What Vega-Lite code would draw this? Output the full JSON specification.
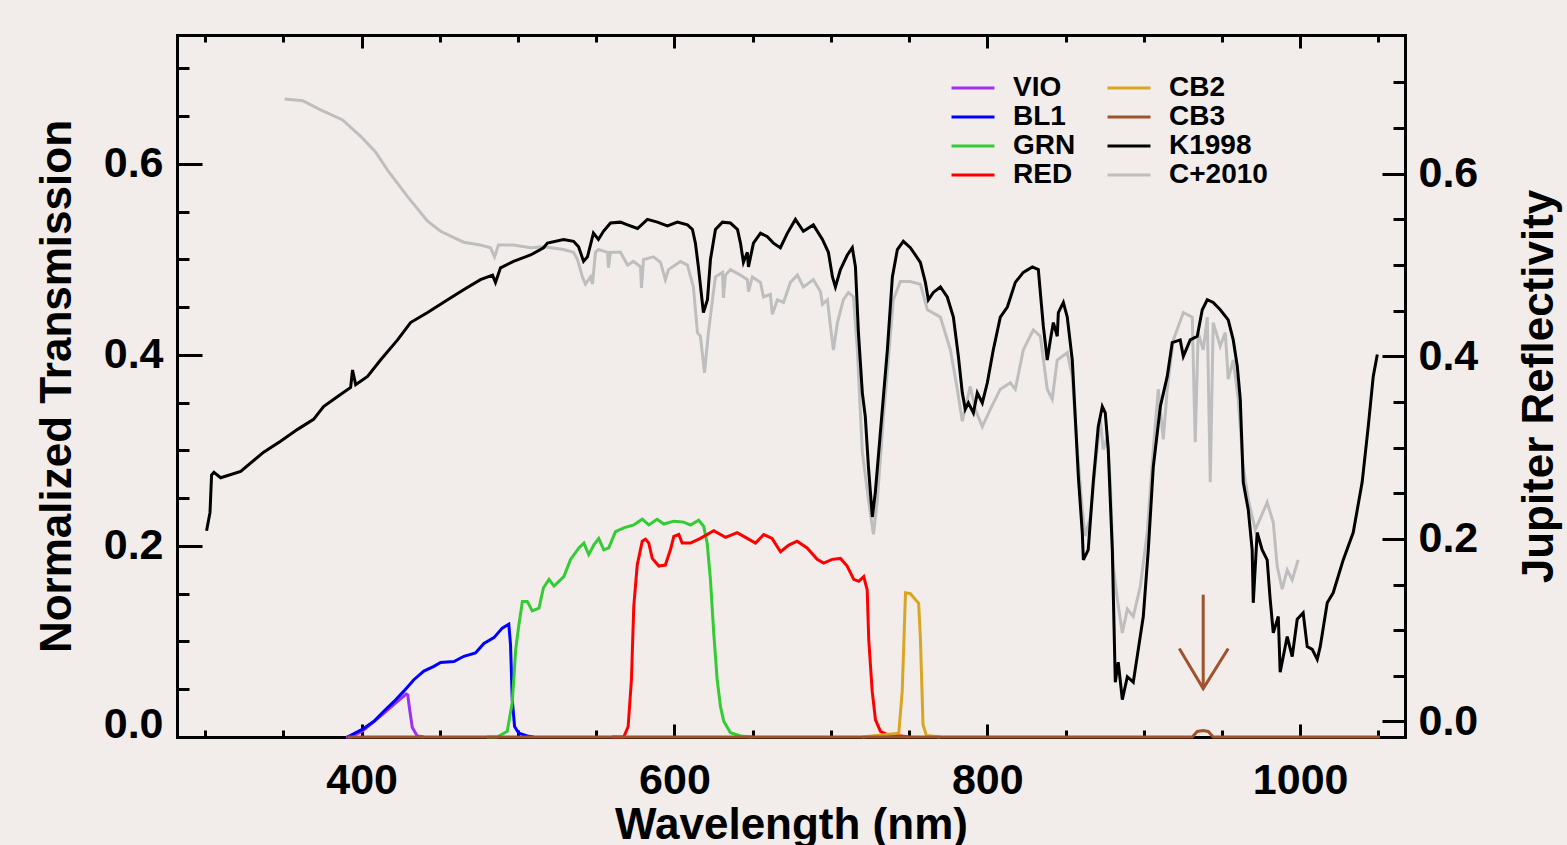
{
"$schema":"https://vega.github.io/schema/vega-lite/v6.json",
"width":1228,"height":702,
"autosize":{"type":"none"},
"padding":{"left":177,"top":35,"right":162,"bottom":108},
"background":"#F2EDEB",
"config":{"view":{"stroke":null},
"axis":{"grid":false,"domainColor":"black","tickColor":"black","labelColor":"black","titleColor":"black","domainWidth":3,"tickWidth":3,"labelFont":"Liberation Sans","titleFont":"Liberation Sans","labelFontSize":43,"titleFontSize":44,"labelFontWeight":"bold","titleFontWeight":"bold","domainCap":"square","labelFlush":false,"labelOverlap":false}},
"datasets":{
"filters":[
{"s":"VIO","w":390,"v":0},{"s":"VIO","w":393.0,"v":0},{"s":"VIO","w":400.4,"v":0.006},{"s":"VIO","w":412.1,"v":0.022},{"s":"VIO","w":422.8,"v":0.037},{"s":"VIO","w":428.5,"v":0.045},{"s":"VIO","w":429.5,"v":0.044},{"s":"VIO","w":430.7,"v":0.029},{"s":"VIO","w":432.4,"v":0.010},{"s":"VIO","w":435.6,"v":0.001},{"s":"VIO","w":440,"v":0},
{"s":"BL1","w":390.9,"v":0},{"s":"BL1","w":400.4,"v":0.008},{"s":"BL1","w":407.9,"v":0.0165},{"s":"BL1","w":414.2,"v":0.027},{"s":"BL1","w":420.6,"v":0.037},{"s":"BL1","w":427.0,"v":0.048},{"s":"BL1","w":433.4,"v":0.060},{"s":"BL1","w":439.8,"v":0.069},{"s":"BL1","w":446.2,"v":0.074},{"s":"BL1","w":450.5,"v":0.078},{"s":"BL1","w":459.0,"v":0.079},{"s":"BL1","w":465.4,"v":0.0845},{"s":"BL1","w":472.8,"v":0.088},{"s":"BL1","w":478.2,"v":0.098},{"s":"BL1","w":484.6,"v":0.104},{"s":"BL1","w":489.9,"v":0.114},{"s":"BL1","w":494.1,"v":0.118},{"s":"BL1","w":495.2,"v":0.097},{"s":"BL1","w":496.3,"v":0.039},{"s":"BL1","w":497.8,"v":0.011},{"s":"BL1","w":500.5,"v":0.004},{"s":"BL1","w":505.9,"v":0.001},{"s":"BL1","w":510,"v":0},
{"s":"GRN","w":480,"v":0},{"s":"GRN","w":486.7,"v":0},{"s":"GRN","w":493.1,"v":0.006},{"s":"GRN","w":496.3,"v":0.036},{"s":"GRN","w":498.5,"v":0.0915},{"s":"GRN","w":500.6,"v":0.118},{"s":"GRN","w":502.8,"v":0.142},{"s":"GRN","w":505.9,"v":0.142},{"s":"GRN","w":509.1,"v":0.132},{"s":"GRN","w":513.4,"v":0.135},{"s":"GRN","w":516.2,"v":0.156},{"s":"GRN","w":519.8,"v":0.165},{"s":"GRN","w":523.0,"v":0.158},{"s":"GRN","w":529.3,"v":0.168},{"s":"GRN","w":533.6,"v":0.186},{"s":"GRN","w":538.9,"v":0.198},{"s":"GRN","w":542.1,"v":0.203},{"s":"GRN","w":545.2,"v":0.191},{"s":"GRN","w":548.4,"v":0.201},{"s":"GRN","w":551.6,"v":0.208},{"s":"GRN","w":554.8,"v":0.196},{"s":"GRN","w":558.0,"v":0.198},{"s":"GRN","w":562.3,"v":0.215},{"s":"GRN","w":567.6,"v":0.219},{"s":"GRN","w":574.0,"v":0.222},{"s":"GRN","w":579.4,"v":0.228},{"s":"GRN","w":583.6,"v":0.222},{"s":"GRN","w":588.9,"v":0.228},{"s":"GRN","w":593.2,"v":0.223},{"s":"GRN","w":599.6,"v":0.226},{"s":"GRN","w":605.9,"v":0.225},{"s":"GRN","w":610.2,"v":0.222},{"s":"GRN","w":615.5,"v":0.227},{"s":"GRN","w":618.7,"v":0.2205},{"s":"GRN","w":620.9,"v":0.203},{"s":"GRN","w":623.0,"v":0.165},{"s":"GRN","w":625.1,"v":0.109},{"s":"GRN","w":627.3,"v":0.060},{"s":"GRN","w":629.4,"v":0.032},{"s":"GRN","w":631.5,"v":0.0165},{"s":"GRN","w":635.8,"v":0.0044},{"s":"GRN","w":642.2,"v":0.001},{"s":"GRN","w":650,"v":0},
{"s":"RED","w":560,"v":0},{"s":"RED","w":567.6,"v":0},{"s":"RED","w":570.4,"v":0.011},{"s":"RED","w":572.5,"v":0.060},{"s":"RED","w":574.0,"v":0.137},{"s":"RED","w":576.2,"v":0.180},{"s":"RED","w":579.4,"v":0.205},{"s":"RED","w":581.5,"v":0.207},{"s":"RED","w":583.6,"v":0.203},{"s":"RED","w":585.8,"v":0.187},{"s":"RED","w":590.0,"v":0.179},{"s":"RED","w":594.2,"v":0.180},{"s":"RED","w":597.4,"v":0.196},{"s":"RED","w":599.6,"v":0.210},{"s":"RED","w":602.8,"v":0.212},{"s":"RED","w":604.9,"v":0.203},{"s":"RED","w":610.2,"v":0.203},{"s":"RED","w":616.6,"v":0.208},{"s":"RED","w":625.1,"v":0.216},{"s":"RED","w":632.6,"v":0.209},{"s":"RED","w":640.1,"v":0.214},{"s":"RED","w":646.5,"v":0.208},{"s":"RED","w":651.8,"v":0.203},{"s":"RED","w":657.1,"v":0.212},{"s":"RED","w":662.4,"v":0.208},{"s":"RED","w":667.8,"v":0.194},{"s":"RED","w":673.1,"v":0.201},{"s":"RED","w":678.4,"v":0.205},{"s":"RED","w":684.8,"v":0.198},{"s":"RED","w":691.2,"v":0.186},{"s":"RED","w":695.4,"v":0.182},{"s":"RED","w":700.8,"v":0.186},{"s":"RED","w":706.1,"v":0.187},{"s":"RED","w":710.4,"v":0.179},{"s":"RED","w":714.6,"v":0.165},{"s":"RED","w":717.8,"v":0.163},{"s":"RED","w":721.0,"v":0.168},{"s":"RED","w":723.2,"v":0.154},{"s":"RED","w":724.2,"v":0.102},{"s":"RED","w":726.4,"v":0.048},{"s":"RED","w":728.5,"v":0.018},{"s":"RED","w":731.7,"v":0.006},{"s":"RED","w":736.0,"v":0.0026},{"s":"RED","w":742.4,"v":0.0016},{"s":"RED","w":750,"v":0},
{"s":"CB2","w":720,"v":0},{"s":"CB2","w":743.4,"v":0.004},{"s":"CB2","w":745.6,"v":0.048},{"s":"CB2","w":747.7,"v":0.151},{"s":"CB2","w":750.8,"v":0.150},{"s":"CB2","w":754.0,"v":0.144},{"s":"CB2","w":756.1,"v":0.140},{"s":"CB2","w":757.2,"v":0.104},{"s":"CB2","w":758.9,"v":0.013},{"s":"CB2","w":761.0,"v":0.0016},{"s":"CB2","w":770,"v":0},
{"s":"CB3","w":391,"v":0},{"s":"CB3","w":931,"v":0},{"s":"CB3","w":934.2,"v":0.0058},{"s":"CB3","w":938,"v":0.0068},{"s":"CB3","w":941.2,"v":0.0058},{"s":"CB3","w":944.4,"v":0},{"s":"CB3","w":1051,"v":0}
],
"arrow":[
{"g":"shaft","w":938,"v":0.149},{"g":"shaft","w":938,"v":0.0507},
{"g":"head","w":922.7,"v":0.0926},{"g":"head","w":938,"v":0.0507},{"g":"head","w":954,"v":0.0926}
],
"gray":[
{"s":"C+2010","w":350.8,"v":0.682},{"s":"C+2010","w":362.3,"v":0.680},{"s":"C+2010","w":373.8,"v":0.670},{"s":"C+2010","w":387.9,"v":0.659},{"s":"C+2010","w":399.4,"v":0.641},{"s":"C+2010","w":408.9,"v":0.624},{"s":"C+2010","w":416.6,"v":0.604},{"s":"C+2010","w":429.4,"v":0.575},{"s":"C+2010","w":442.2,"v":0.548},{"s":"C+2010","w":450.5,"v":0.537},{"s":"C+2010","w":465.2,"v":0.525},{"s":"C+2010","w":476.0,"v":0.522},{"s":"C+2010","w":482.4,"v":0.519},{"s":"C+2010","w":485.0,"v":0.509},{"s":"C+2010","w":487.5,"v":0.522},{"s":"C+2010","w":497.1,"v":0.522},{"s":"C+2010","w":508.0,"v":0.519},{"s":"C+2010","w":516.3,"v":0.520},{"s":"C+2010","w":529.1,"v":0.517},{"s":"C+2010","w":535.5,"v":0.514},{"s":"C+2010","w":538.0,"v":0.506},{"s":"C+2010","w":541.2,"v":0.487},{"s":"C+2010","w":543.1,"v":0.479},{"s":"C+2010","w":546.3,"v":0.487},{"s":"C+2010","w":547.6,"v":0.479},{"s":"C+2010","w":549.5,"v":0.514},{"s":"C+2010","w":551.4,"v":0.517},{"s":"C+2010","w":557.2,"v":0.514},{"s":"C+2010","w":557.8,"v":0.497},{"s":"C+2010","w":559.1,"v":0.514},{"s":"C+2010","w":565.5,"v":0.514},{"s":"C+2010","w":570.0,"v":0.500},{"s":"C+2010","w":573.8,"v":0.504},{"s":"C+2010","w":578.3,"v":0.498},{"s":"C+2010","w":578.9,"v":0.475},{"s":"C+2010","w":580.2,"v":0.506},{"s":"C+2010","w":586.6,"v":0.509},{"s":"C+2010","w":591.1,"v":0.503},{"s":"C+2010","w":594.2,"v":0.484},{"s":"C+2010","w":596.2,"v":0.495},{"s":"C+2010","w":603.8,"v":0.504},{"s":"C+2010","w":608.3,"v":0.500},{"s":"C+2010","w":612.1,"v":0.476},{"s":"C+2010","w":614.7,"v":0.426},{"s":"C+2010","w":616.6,"v":0.422},{"s":"C+2010","w":619.2,"v":0.382},{"s":"C+2010","w":621.7,"v":0.426},{"s":"C+2010","w":624.3,"v":0.462},{"s":"C+2010","w":626.2,"v":0.487},{"s":"C+2010","w":630.7,"v":0.492},{"s":"C+2010","w":631.3,"v":0.464},{"s":"C+2010","w":632.6,"v":0.489},{"s":"C+2010","w":635.8,"v":0.495},{"s":"C+2010","w":642.2,"v":0.489},{"s":"C+2010","w":646.6,"v":0.484},{"s":"C+2010","w":647.3,"v":0.471},{"s":"C+2010","w":649.8,"v":0.487},{"s":"C+2010","w":655.0,"v":0.481},{"s":"C+2010","w":656.9,"v":0.465},{"s":"C+2010","w":661.3,"v":0.468},{"s":"C+2010","w":662.6,"v":0.446},{"s":"C+2010","w":665.8,"v":0.462},{"s":"C+2010","w":669.7,"v":0.459},{"s":"C+2010","w":674.1,"v":0.481},{"s":"C+2010","w":678.6,"v":0.489},{"s":"C+2010","w":682.4,"v":0.476},{"s":"C+2010","w":688.8,"v":0.484},{"s":"C+2010","w":693.3,"v":0.471},{"s":"C+2010","w":694.6,"v":0.457},{"s":"C+2010","w":697.8,"v":0.462},{"s":"C+2010","w":699.7,"v":0.433},{"s":"C+2010","w":701.6,"v":0.407},{"s":"C+2010","w":704.2,"v":0.437},{"s":"C+2010","w":708.0,"v":0.462},{"s":"C+2010","w":711.2,"v":0.470},{"s":"C+2010","w":714.4,"v":0.465},{"s":"C+2010","w":716.9,"v":0.407},{"s":"C+2010","w":720.1,"v":0.295},{"s":"C+2010","w":724.0,"v":0.243},{"s":"C+2010","w":727.2,"v":0.205},{"s":"C+2010","w":729.7,"v":0.243},{"s":"C+2010","w":733.6,"v":0.334},{"s":"C+2010","w":736.7,"v":0.396},{"s":"C+2010","w":739.9,"v":0.462},{"s":"C+2010","w":744.4,"v":0.482},{"s":"C+2010","w":750.8,"v":0.482},{"s":"C+2010","w":757.2,"v":0.479},{"s":"C+2010","w":761.7,"v":0.451},{"s":"C+2010","w":770.0,"v":0.443},{"s":"C+2010","w":776.4,"v":0.407},{"s":"C+2010","w":780.8,"v":0.364},{"s":"C+2010","w":784.0,"v":0.329},{"s":"C+2010","w":789.1,"v":0.367},{"s":"C+2010","w":792.3,"v":0.342},{"s":"C+2010","w":796.8,"v":0.323},{"s":"C+2010","w":801.9,"v":0.342},{"s":"C+2010","w":808.3,"v":0.364},{"s":"C+2010","w":814.7,"v":0.371},{"s":"C+2010","w":817.9,"v":0.364},{"s":"C+2010","w":823.0,"v":0.407},{"s":"C+2010","w":829.4,"v":0.429},{"s":"C+2010","w":833.9,"v":0.422},{"s":"C+2010","w":838.3,"v":0.364},{"s":"C+2010","w":841.5,"v":0.353},{"s":"C+2010","w":844.7,"v":0.396},{"s":"C+2010","w":851.1,"v":0.404},{"s":"C+2010","w":854.3,"v":0.378},{"s":"C+2010","w":857.5,"v":0.298},{"s":"C+2010","w":860.7,"v":0.232},{"s":"C+2010","w":862.6,"v":0.203},{"s":"C+2010","w":865.8,"v":0.224},{"s":"C+2010","w":869.0,"v":0.279},{"s":"C+2010","w":872.2,"v":0.331},{"s":"C+2010","w":874.1,"v":0.298},{"s":"C+2010","w":876.7,"v":0.312},{"s":"C+2010","w":878.6,"v":0.262},{"s":"C+2010","w":880.5,"v":0.170},{"s":"C+2010","w":883.1,"v":0.134},{"s":"C+2010","w":886.3,"v":0.097},{"s":"C+2010","w":889.5,"v":0.123},{"s":"C+2010","w":893.3,"v":0.115},{"s":"C+2010","w":897.8,"v":0.148},{"s":"C+2010","w":902.2,"v":0.207},{"s":"C+2010","w":906.1,"v":0.298},{"s":"C+2010","w":909.3,"v":0.364},{"s":"C+2010","w":912.5,"v":0.309},{"s":"C+2010","w":915.0,"v":0.364},{"s":"C+2010","w":918.9,"v":0.418},{"s":"C+2010","w":925.3,"v":0.448},{"s":"C+2010","w":931.0,"v":0.443},{"s":"C+2010","w":932.9,"v":0.306},{"s":"C+2010","w":934.8,"v":0.426},{"s":"C+2010","w":938.0,"v":0.407},{"s":"C+2010","w":940.6,"v":0.443},{"s":"C+2010","w":942.5,"v":0.262},{"s":"C+2010","w":944.4,"v":0.437},{"s":"C+2010","w":948.9,"v":0.411},{"s":"C+2010","w":952.1,"v":0.426},{"s":"C+2010","w":954.0,"v":0.375},{"s":"C+2010","w":957.2,"v":0.396},{"s":"C+2010","w":960.4,"v":0.353},{"s":"C+2010","w":963.6,"v":0.279},{"s":"C+2010","w":966.8,"v":0.243},{"s":"C+2010","w":971.3,"v":0.210},{"s":"C+2010","w":978.9,"v":0.240},{"s":"C+2010","w":982.8,"v":0.218},{"s":"C+2010","w":985.3,"v":0.170},{"s":"C+2010","w":988.5,"v":0.145},{"s":"C+2010","w":991.7,"v":0.166},{"s":"C+2010","w":994.9,"v":0.155},{"s":"C+2010","w":998.7,"v":0.177}
],
"black":[
{"s":"K1998","w":300.9,"v":0.209},{"s":"K1998","w":303.1,"v":0.229},{"s":"K1998","w":304.1,"v":0.270},{"s":"K1998","w":305.6,"v":0.273},{"s":"K1998","w":309.9,"v":0.267},{"s":"K1998","w":322.7,"v":0.274},{"s":"K1998","w":337.4,"v":0.295},{"s":"K1998","w":348.2,"v":0.307},{"s":"K1998","w":359.1,"v":0.320},{"s":"K1998","w":369.3,"v":0.331},{"s":"K1998","w":375.7,"v":0.345},{"s":"K1998","w":384.7,"v":0.356},{"s":"K1998","w":393.0,"v":0.366},{"s":"K1998","w":394.2,"v":0.385},{"s":"K1998","w":396.2,"v":0.369},{"s":"K1998","w":403.8,"v":0.378},{"s":"K1998","w":412.1,"v":0.396},{"s":"K1998","w":423.0,"v":0.418},{"s":"K1998","w":431.3,"v":0.437},{"s":"K1998","w":442.2,"v":0.448},{"s":"K1998","w":455.0,"v":0.462},{"s":"K1998","w":465.2,"v":0.473},{"s":"K1998","w":476.0,"v":0.484},{"s":"K1998","w":483.7,"v":0.489},{"s":"K1998","w":485.6,"v":0.481},{"s":"K1998","w":488.8,"v":0.497},{"s":"K1998","w":497.1,"v":0.504},{"s":"K1998","w":508.0,"v":0.511},{"s":"K1998","w":516.3,"v":0.519},{"s":"K1998","w":518.8,"v":0.524},{"s":"K1998","w":529.1,"v":0.528},{"s":"K1998","w":535.5,"v":0.526},{"s":"K1998","w":538.7,"v":0.520},{"s":"K1998","w":541.9,"v":0.504},{"s":"K1998","w":544.4,"v":0.509},{"s":"K1998","w":548.2,"v":0.535},{"s":"K1998","w":551.4,"v":0.528},{"s":"K1998","w":554.6,"v":0.537},{"s":"K1998","w":559.1,"v":0.546},{"s":"K1998","w":565.5,"v":0.547},{"s":"K1998","w":570.0,"v":0.544},{"s":"K1998","w":576.4,"v":0.540},{"s":"K1998","w":582.7,"v":0.550},{"s":"K1998","w":589.1,"v":0.547},{"s":"K1998","w":595.5,"v":0.543},{"s":"K1998","w":601.9,"v":0.547},{"s":"K1998","w":608.3,"v":0.544},{"s":"K1998","w":611.5,"v":0.539},{"s":"K1998","w":613.4,"v":0.524},{"s":"K1998","w":615.3,"v":0.498},{"s":"K1998","w":618.5,"v":0.448},{"s":"K1998","w":621.1,"v":0.462},{"s":"K1998","w":623.0,"v":0.506},{"s":"K1998","w":626.2,"v":0.539},{"s":"K1998","w":630.7,"v":0.547},{"s":"K1998","w":635.8,"v":0.546},{"s":"K1998","w":640.3,"v":0.539},{"s":"K1998","w":642.2,"v":0.524},{"s":"K1998","w":644.1,"v":0.503},{"s":"K1998","w":646.6,"v":0.514},{"s":"K1998","w":647.3,"v":0.498},{"s":"K1998","w":650.5,"v":0.524},{"s":"K1998","w":655.0,"v":0.535},{"s":"K1998","w":659.4,"v":0.531},{"s":"K1998","w":663.3,"v":0.524},{"s":"K1998","w":667.7,"v":0.519},{"s":"K1998","w":672.2,"v":0.535},{"s":"K1998","w":677.3,"v":0.550},{"s":"K1998","w":682.4,"v":0.537},{"s":"K1998","w":688.8,"v":0.544},{"s":"K1998","w":694.6,"v":0.528},{"s":"K1998","w":698.4,"v":0.514},{"s":"K1998","w":701.0,"v":0.487},{"s":"K1998","w":702.9,"v":0.476},{"s":"K1998","w":706.1,"v":0.495},{"s":"K1998","w":710.5,"v":0.511},{"s":"K1998","w":713.7,"v":0.519},{"s":"K1998","w":715.7,"v":0.498},{"s":"K1998","w":717.6,"v":0.426},{"s":"K1998","w":720.1,"v":0.360},{"s":"K1998","w":722.0,"v":0.334},{"s":"K1998","w":724.0,"v":0.279},{"s":"K1998","w":726.5,"v":0.224},{"s":"K1998","w":728.4,"v":0.251},{"s":"K1998","w":731.6,"v":0.316},{"s":"K1998","w":736.1,"v":0.407},{"s":"K1998","w":739.3,"v":0.487},{"s":"K1998","w":742.5,"v":0.517},{"s":"K1998","w":746.3,"v":0.526},{"s":"K1998","w":750.8,"v":0.519},{"s":"K1998","w":757.2,"v":0.503},{"s":"K1998","w":760.4,"v":0.481},{"s":"K1998","w":762.3,"v":0.462},{"s":"K1998","w":765.5,"v":0.470},{"s":"K1998","w":770.0,"v":0.476},{"s":"K1998","w":774.4,"v":0.465},{"s":"K1998","w":778.3,"v":0.443},{"s":"K1998","w":781.5,"v":0.400},{"s":"K1998","w":784.0,"v":0.360},{"s":"K1998","w":785.9,"v":0.342},{"s":"K1998","w":787.9,"v":0.349},{"s":"K1998","w":791.1,"v":0.338},{"s":"K1998","w":793.6,"v":0.360},{"s":"K1998","w":796.8,"v":0.349},{"s":"K1998","w":800.0,"v":0.371},{"s":"K1998","w":803.8,"v":0.407},{"s":"K1998","w":808.3,"v":0.443},{"s":"K1998","w":812.8,"v":0.454},{"s":"K1998","w":817.9,"v":0.481},{"s":"K1998","w":823.0,"v":0.492},{"s":"K1998","w":828.8,"v":0.498},{"s":"K1998","w":832.6,"v":0.495},{"s":"K1998","w":835.8,"v":0.433},{"s":"K1998","w":838.3,"v":0.396},{"s":"K1998","w":840.3,"v":0.418},{"s":"K1998","w":842.2,"v":0.437},{"s":"K1998","w":844.7,"v":0.422},{"s":"K1998","w":845.4,"v":0.448},{"s":"K1998","w":848.6,"v":0.459},{"s":"K1998","w":851.1,"v":0.443},{"s":"K1998","w":854.3,"v":0.396},{"s":"K1998","w":856.2,"v":0.334},{"s":"K1998","w":858.2,"v":0.268},{"s":"K1998","w":860.7,"v":0.207},{"s":"K1998","w":861.4,"v":0.177},{"s":"K1998","w":864.5,"v":0.188},{"s":"K1998","w":867.7,"v":0.262},{"s":"K1998","w":870.9,"v":0.323},{"s":"K1998","w":873.5,"v":0.345},{"s":"K1998","w":875.4,"v":0.338},{"s":"K1998","w":877.3,"v":0.298},{"s":"K1998","w":879.9,"v":0.188},{"s":"K1998","w":881.8,"v":0.043},{"s":"K1998","w":883.7,"v":0.065},{"s":"K1998","w":886.3,"v":0.024},{"s":"K1998","w":889.5,"v":0.049},{"s":"K1998","w":893.3,"v":0.043},{"s":"K1998","w":896.5,"v":0.079},{"s":"K1998","w":899.7,"v":0.115},{"s":"K1998","w":902.9,"v":0.188},{"s":"K1998","w":906.1,"v":0.279},{"s":"K1998","w":910.6,"v":0.345},{"s":"K1998","w":915.0,"v":0.378},{"s":"K1998","w":918.2,"v":0.415},{"s":"K1998","w":923.3,"v":0.418},{"s":"K1998","w":925.3,"v":0.400},{"s":"K1998","w":929.7,"v":0.418},{"s":"K1998","w":934.2,"v":0.422},{"s":"K1998","w":937.4,"v":0.451},{"s":"K1998","w":940.6,"v":0.462},{"s":"K1998","w":944.4,"v":0.459},{"s":"K1998","w":948.9,"v":0.451},{"s":"K1998","w":954.0,"v":0.440},{"s":"K1998","w":957.2,"v":0.418},{"s":"K1998","w":959.8,"v":0.389},{"s":"K1998","w":961.7,"v":0.353},{"s":"K1998","w":963.6,"v":0.262},{"s":"K1998","w":966.8,"v":0.232},{"s":"K1998","w":969.3,"v":0.188},{"s":"K1998","w":970.0,"v":0.130},{"s":"K1998","w":972.5,"v":0.207},{"s":"K1998","w":975.7,"v":0.188},{"s":"K1998","w":978.9,"v":0.177},{"s":"K1998","w":980.8,"v":0.134},{"s":"K1998","w":982.8,"v":0.097},{"s":"K1998","w":986.0,"v":0.115},{"s":"K1998","w":987.2,"v":0.054},{"s":"K1998","w":991.7,"v":0.093},{"s":"K1998","w":994.9,"v":0.071},{"s":"K1998","w":998.1,"v":0.112},{"s":"K1998","w":1001.9,"v":0.119},{"s":"K1998","w":1004.5,"v":0.082},{"s":"K1998","w":1007.7,"v":0.079},{"s":"K1998","w":1010.9,"v":0.068},{"s":"K1998","w":1012.8,"v":0.082},{"s":"K1998","w":1017.3,"v":0.130},{"s":"K1998","w":1021.1,"v":0.141},{"s":"K1998","w":1027.5,"v":0.177},{"s":"K1998","w":1033.9,"v":0.207},{"s":"K1998","w":1039.6,"v":0.262},{"s":"K1998","w":1043.5,"v":0.323},{"s":"K1998","w":1046.7,"v":0.378},{"s":"K1998","w":1049.3,"v":0.402}
]
},
"layer":[
{"data":{"name":"filters"},
"mark":{"type":"line","strokeWidth":3},
"encoding":{
"x":{"field":"w","type":"quantitative","scale":{"domain":[282,1067],"nice":false,"zero":false},
"axis":{"orient":"bottom","values":[400,600,800,1000],"format":"d","tickSize":-13,"labelPadding":35,"title":"Wavelength (nm)","titlePadding":1}},
"y":{"field":"v","type":"quantitative","scale":{"domain":[0,0.735],"nice":false,"zero":false},
"axis":{"orient":"left","values":[0,0.2,0.4,0.6],"format":".1f","tickSize":-25,"labelPadding":39,"labelBaseline":{"condition":{"test":"datum.value === 0","value":"alphabetic"},"value":"middle"},"title":"Normalized Transmission","titlePadding":24}},
"color":{"field":"s","type":"nominal",
"scale":{"domain":["VIO","BL1","GRN","RED","CB2","CB3","K1998","C+2010"],"range":["#A030F0","#0000FF","#33CC33","#FF0000","#DAA520","#A0522D","#000000","#BEBEBE"]},
"legend":{"orient":"none","legendX":782,"legendY":39,"columns":2,"title":null,"symbolType":"M-3,0H3","symbolSize":205,"symbolStrokeWidth":3,"labelFontSize":28,"labelFontWeight":"bold","labelFont":"Liberation Sans","labelColor":"black","labelOffset":26,"columnPadding":25,"rowPadding":1,"padding":0}}
}},
{"data":{"name":"arrow"},
"mark":{"type":"line","strokeWidth":3,"color":"#A0522D"},
"encoding":{
"x":{"field":"w","type":"quantitative","scale":{"domain":[282,1067],"nice":false,"zero":false},
"axis":{"orient":"bottom","values":[300,350,400,450,500,550,600,650,700,750,800,850,900,950,1000,1050],"tickSize":-7,"labels":false,"domain":false,"title":null}},
"y":{"field":"v","type":"quantitative","scale":{"domain":[0,0.735],"nice":false,"zero":false},
"axis":{"orient":"left","values":[0.05,0.1,0.15,0.25,0.3,0.35,0.45,0.5,0.55,0.65,0.7],"tickSize":-12,"labels":false,"domain":false,"title":null}},
"detail":{"field":"g","type":"nominal"}
}},
{"data":{"name":"gray"},
"mark":{"type":"line","strokeWidth":3},
"encoding":{
"x":{"field":"w","type":"quantitative","scale":{"domain":[282,1067],"nice":false,"zero":false},
"axis":{"orient":"top","values":[400,600,800,1000],"tickSize":-13,"labels":false,"title":null}},
"y":{"field":"v","type":"quantitative","scale":{"domain":[-0.017,0.752],"nice":false,"zero":false},
"axis":{"orient":"right","values":[0,0.2,0.4,0.6],"format":".1f","tickSize":-23,"labelPadding":36,"title":"Jupiter Reflectivity","titleAngle":270,"titleBaseline":"top","titlePadding":40}},
"color":{"field":"s","type":"nominal"}
}},
{"data":{"name":"black"},
"mark":{"type":"line","strokeWidth":3},
"encoding":{
"x":{"field":"w","type":"quantitative","scale":{"domain":[282,1067],"nice":false,"zero":false},
"axis":{"orient":"top","values":[300,350,400,450,500,550,600,650,700,750,800,850,900,950,1000,1050],"tickSize":-7,"labels":false,"domain":false,"title":null}},
"y":{"field":"v","type":"quantitative","scale":{"domain":[-0.017,0.752],"nice":false,"zero":false},
"axis":{"orient":"right","values":[0.05,0.1,0.15,0.25,0.3,0.35,0.45,0.5,0.55,0.65,0.7],"tickSize":-12,"labels":false,"domain":false,"title":null}},
"color":{"field":"s","type":"nominal"}
}}
],
"resolve":{"scale":{"x":"independent","y":"independent","color":"shared"},"axis":{"x":"independent","y":"independent"}}
}
